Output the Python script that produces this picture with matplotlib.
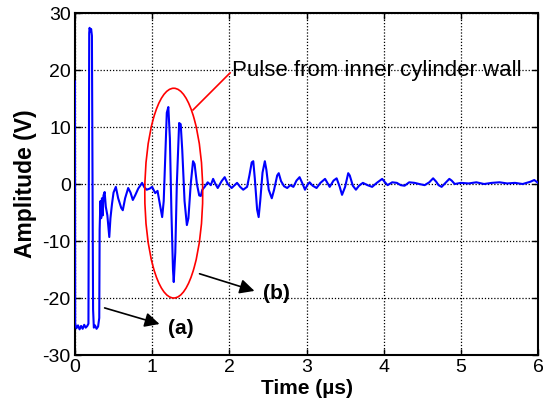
import matplotlib
matplotlib.use("Agg")
import matplotlib.pyplot as plt
from matplotlib.patches import Ellipse

plt.rcParams['font.family'] = ['Liberation Sans', 'DejaVu Sans']
plt.rcParams['axes.unicode_minus'] = False

# Signal vertices (time in µs, amplitude in V)
time_us = [0.000, 0.003, 0.02, 0.04, 0.06, 0.08, 0.10, 0.12, 0.14, 0.16, 0.175,
           0.185, 0.19, 0.20, 0.21, 0.22, 0.235, 0.245, 0.26, 0.28, 0.30, 0.315,
           0.32, 0.33, 0.34, 0.35, 0.36, 0.37, 0.385, 0.40, 0.42, 0.445, 0.46, 0.48,
           0.50, 0.53, 0.56, 0.60, 0.62, 0.65, 0.69, 0.72, 0.75, 0.78, 0.82, 0.87,
           0.90, 0.93, 0.97, 1.00, 1.04, 1.07, 1.10, 1.13, 1.15, 1.17, 1.19, 1.21,
           1.23, 1.25, 1.27, 1.28, 1.30, 1.32, 1.35, 1.37, 1.39, 1.42, 1.45, 1.47,
           1.50, 1.53, 1.55, 1.58, 1.61, 1.63, 1.65, 1.68, 1.72, 1.76, 1.79, 1.82,
           1.85, 1.90, 1.94, 1.98, 2.03, 2.07, 2.10, 2.14, 2.18, 2.23, 2.26, 2.29,
           2.31, 2.33, 2.36, 2.38, 2.40, 2.43, 2.46, 2.48, 2.51, 2.55, 2.58, 2.62,
           2.64, 2.67, 2.71, 2.75, 2.79, 2.83, 2.87, 2.91, 2.95, 2.98, 3.01, 3.04,
           3.08, 3.13, 3.18, 3.24, 3.27, 3.30, 3.35, 3.39, 3.43, 3.46, 3.50, 3.54,
           3.56, 3.60, 3.64, 3.68, 3.73, 3.79, 3.85, 3.91, 3.98, 4.01, 4.05, 4.11,
           4.17, 4.22, 4.27, 4.33, 4.40, 4.46, 4.53, 4.59, 4.64, 4.68, 4.71, 4.75,
           4.80, 4.85, 4.88, 4.92, 5.0, 5.1, 5.2, 5.3, 5.4, 5.5, 5.6, 5.7, 5.8,
           5.9, 5.95, 6.0]
amplitude_v = [18.0, -24.5, -25.3, -24.8, -25.5, -24.9, -25.4, -24.7, -25.2, -24.9, -24.5,
               26.5, 27.4, 26.8, 27.2, 26.0, -22.0, -25.2, -24.8, -25.4, -25.0, -23.5,
               -8.0, -3.0, -6.0, -2.5, -5.5, -2.0, -1.4, -4.0, -5.5, -9.3, -6.0, -3.5,
               -1.5, -0.5, -2.5, -4.2, -4.6, -2.5, -0.7, -1.5, -2.8, -2.0, -0.8, 0.2,
               -0.6, -1.0, -0.8, -0.5, -1.6, -1.2, -3.5, -5.8, -3.0, 5.0, 12.5, 13.5,
               8.0, -5.0, -15.0, -17.2, -12.0, 0.0, 10.7, 10.5, 6.0, -3.0, -7.2, -6.0,
               0.0, 4.0, 3.5, 0.0, -2.0, -2.1, -1.0, -0.5, 0.3, -0.2, 0.9, 0.0,
               -0.7, 0.5, 1.2, 0.0, -0.7, -0.2, 0.2, -0.5, -1.0, -0.5, 1.5, 3.8,
               4.0, 1.0, -4.5, -5.8, -3.0, 2.0, 4.0, 2.5, -1.0, -2.5, -1.0, 1.5,
               1.9, 0.5, -0.4, -0.7, -0.2, -0.5, 0.6, 1.2, 0.0, -1.0, -0.2, 0.3,
               -0.3, -0.7, 0.2, 0.9, 0.2, -0.5, 0.6, 1.0, -0.5, -1.9, -0.5, 1.9,
               1.5, -0.3, -1.0, -0.3, 0.2, -0.2, -0.5, 0.2, 0.9, 0.4, -0.2, 0.3,
               0.2, -0.2, -0.3, 0.3, 0.2, 0.0, -0.2, 0.3, 1.0, 0.4, -0.2, -0.5,
               0.2, 0.9, 0.6, 0.0, 0.2, 0.1, 0.3, 0.0, 0.2, 0.3, 0.1, 0.2, 0.0,
               0.4, 0.7, 0.2]

x_ticks = [0, 1, 2, 3, 4, 5, 6]
y_ticks = [-30, -20, -10, 0, 10, 20, 30]

fig = plt.figure(figsize=(5.43, 4.13), dpi=100)
ax = fig.add_axes([0.138, 0.1404, 0.853, 0.8281])

ax.plot(time_us, amplitude_v, color=(0, 0, 1), lw=1.5, zorder=3)

ax.set_xlim(0, 6)
ax.set_ylim(-30, 30)
ax.set_xticks(x_ticks)
ax.set_yticks(y_ticks)
ax.tick_params(direction='in', length=4, width=1, labelsize=14, pad=3,
               top=True, right=True)
ax.grid(True, color='black', linestyle=(0, (1, 1.5)), linewidth=0.9)
for s in ax.spines.values():
    s.set_linewidth(1.5)

ax.set_xlabel('Time (µs)', fontsize=15, fontweight='bold', labelpad=2)
ax.set_ylabel('Amplitude (V)', fontsize=16.5, fontweight='bold', labelpad=4)

# Red ellipse around inner-wall pulse
ell = Ellipse((1.28, -1.6), 0.75, 36.8, fill=False, edgecolor='red', lw=1.2, zorder=4)
ax.add_patch(ell)
ax.plot([1.53, 2.01], [13.0, 19.5], color='red', lw=1.2, zorder=4)
ax.text(2.03, 20.0, 'Pulse from inner cylinder wall', fontsize=16, va='center', ha='left', zorder=5)

# Arrows (a) and (b)
ax.annotate('', xy=(1.13, -24.7), xytext=(0.35, -21.6),
            arrowprops=dict(arrowstyle='-|>', color='black', lw=1.2, mutation_scale=22), zorder=5)
ax.text(1.2, -25.4, '(a)', fontsize=15, fontweight='bold', va='center', ha='left')
ax.annotate('', xy=(2.36, -18.9), xytext=(1.58, -15.6),
            arrowprops=dict(arrowstyle='-|>', color='black', lw=1.2, mutation_scale=22), zorder=5)
ax.text(2.44, -19.2, '(b)', fontsize=15, fontweight='bold', va='center', ha='left')

fig.savefig('out.png', dpi=100)
